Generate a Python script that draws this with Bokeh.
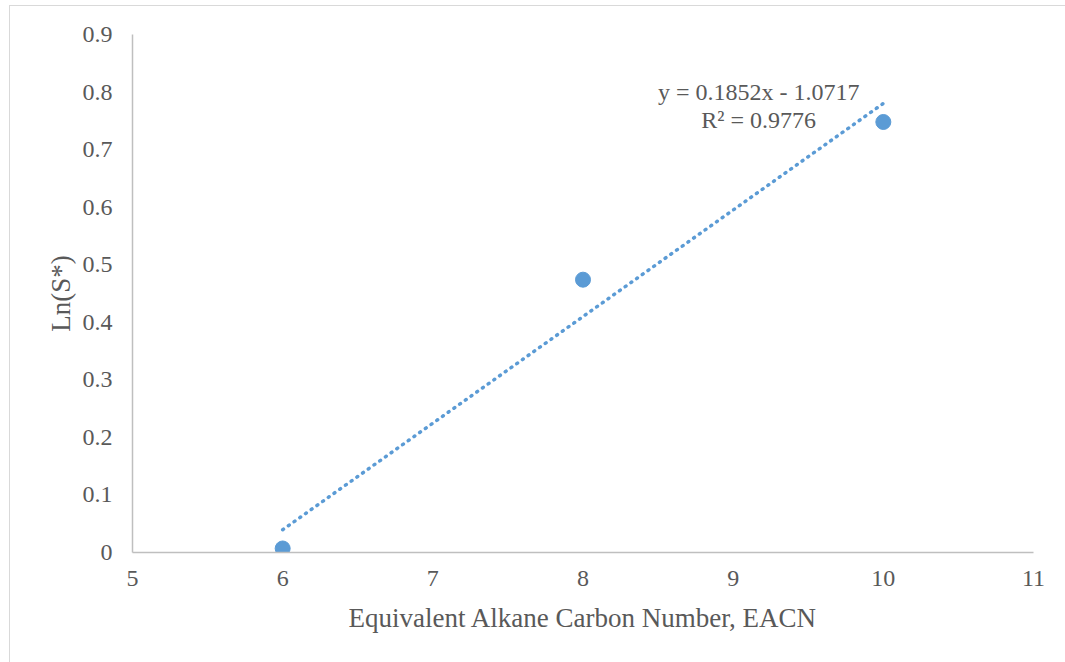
from bokeh.plotting import figure
from bokeh.models import Range1d, Label, FixedTicker, InlineStyleSheet
from bokeh.embed import file_html
from bokeh.resources import INLINE
import numpy as np

eacn = [6, 8, 10]
ln_s = [0.007, 0.474, 0.748]
slope = 0.1852
intercept = -1.0717
r2 = 0.9776
x_ticks = [5, 6, 7, 8, 9, 10, 11]
y_ticks = [0, 0.1, 0.2, 0.3, 0.4, 0.5, 0.6, 0.7, 0.8, 0.9]

FONT = "Liberation Serif"
BLUE = "#5B9BD5"
TXT = "#595959"

p = figure(width=1065, height=662, output_backend="svg", toolbar_location=None,
           x_range=Range1d(5, 11), y_range=Range1d(0, 0.9),
           min_border_left=132, min_border_right=32, min_border_top=34, min_border_bottom=110)
p.outline_line_color = None
p.grid.visible = False
p.background_fill_color = "white"
p.border_fill_color = "white"

for ax in (p.xaxis[0], p.yaxis[0]):
    ax.axis_line_color = "#BFBFBF"
    ax.axis_line_width = 1.5
    ax.major_tick_line_color = None
    ax.minor_tick_line_color = None
    ax.major_tick_out = 0
    ax.major_tick_in = 0
    ax.major_label_text_font = FONT
    ax.major_label_text_font_size = "24px"
    ax.major_label_text_color = TXT
    ax.axis_label_text_font = FONT
    ax.axis_label_text_font_size = "27px"
    ax.axis_label_text_color = TXT
    ax.axis_label_text_font_style = "normal"

p.xaxis.ticker = FixedTicker(ticks=x_ticks)
p.yaxis.ticker = FixedTicker(ticks=y_ticks)
p.yaxis.major_label_overrides = {t: ("0" if t == 0 else f"{t:g}") for t in y_ticks}
p.xaxis.major_label_standoff = 18
p.yaxis.major_label_standoff = 20
p.xaxis.axis_label = "Equivalent Alkane Carbon Number, EACN"
p.yaxis.axis_label = "Ln(S*)"
p.xaxis.axis_label_standoff = 14
p.yaxis.axis_label_standoff = 4

# trendline
tx = np.array([min(eacn), max(eacn)], dtype=float)
ty = slope * tx + intercept
p.line(tx, ty, line_color=BLUE, line_width=3.5, line_dash="1 6", line_cap="round")

p.scatter(eacn, ln_s, size=15, color=BLUE, line_color=BLUE)

p.add_layout(Label(x=9.17, y=0.80, text=f"y = {slope}x - {abs(intercept)}", text_align="center",
                   text_baseline="middle", text_font=FONT, text_font_size="24px", text_color=TXT))
p.add_layout(Label(x=9.17, y=0.752, text=f"R² = {r2}", text_align="center",
                   text_baseline="middle", text_font=FONT, text_font_size="24px", text_color=TXT))

p.stylesheets = [InlineStyleSheet(css="""
:host { position: relative; }
:host::after { content: ''; position: absolute; left: 9px; top: 5px; width: 1100px; height: 700px;
  border: 1.5px solid #D9D9D9; pointer-events: none; z-index: 10; box-sizing: border-box; }
""")]

open("out.html", "w").write(file_html(p, INLINE))
